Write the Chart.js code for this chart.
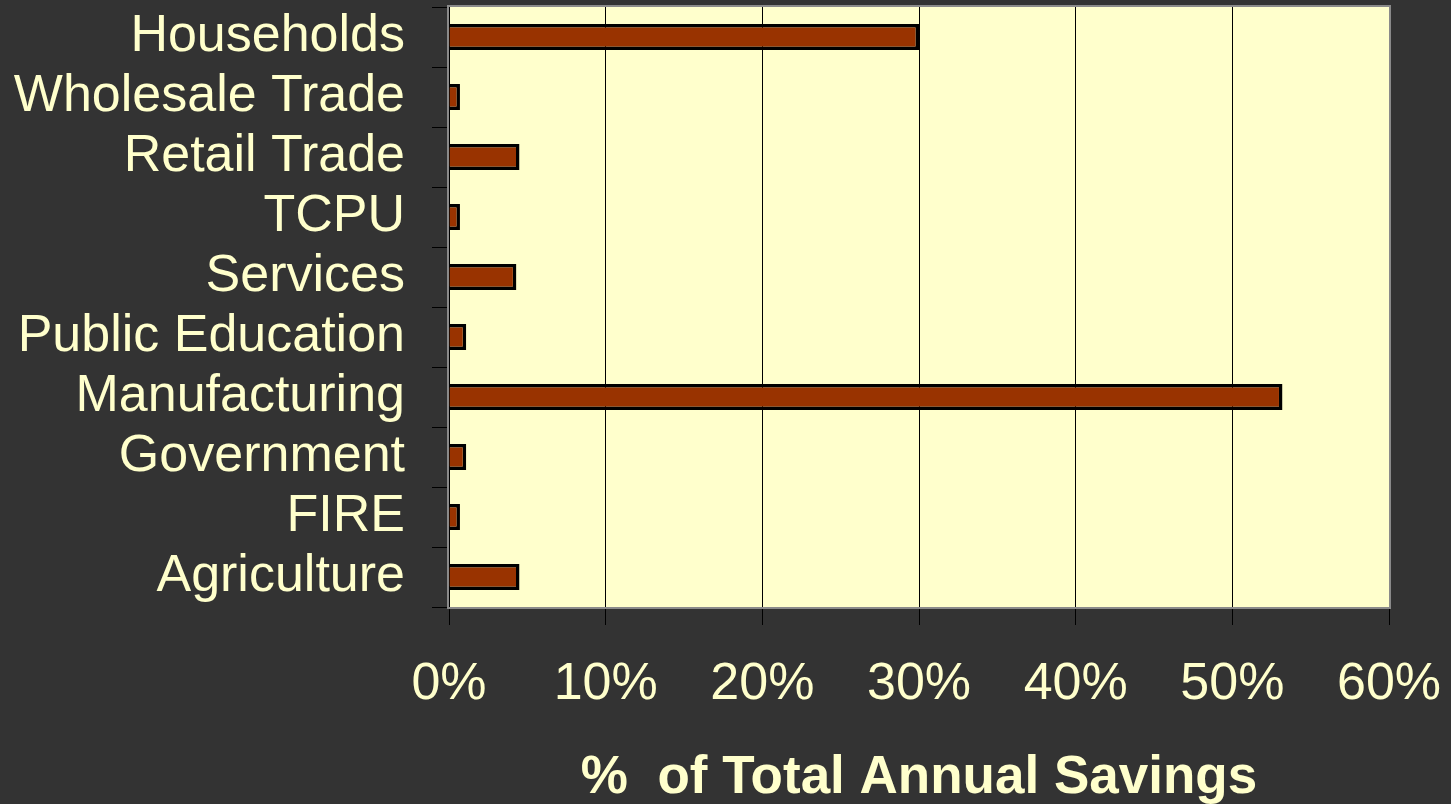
<!DOCTYPE html>
<html>
<head>
<meta charset="utf-8">
<script src="https://cdn.jsdelivr.net/npm/chart.js@4/dist/chart.umd.min.js"></script>
<style>
  html, body { margin: 0; padding: 0; background: #333333; }
  #wrap { width: 1451px; height: 804px; }
</style>
</head>
<body>
<div id="wrap"><canvas id="chart" width="1451" height="804"></canvas></div>
<script>
const sectors = ['Households', 'Wholesale Trade', 'Retail Trade', 'TCPU', 'Services',
    'Public Education', 'Manufacturing', 'Government', 'FIRE', 'Agriculture'];
const savingsShare = [30.0, 0.7, 4.5, 0.7, 4.3, 1.1, 53.2, 1.1, 0.7, 4.5];
const xTicks = [0, 10, 20, 30, 40, 50, 60];

const textColor = '#FFFFCC';
const fontFamily = '"Liberation Sans", Arial, Helvetica, sans-serif';

// plot background + grey frame
const plotFrame = {
    id: 'plotFrame',
    beforeDraw(chart) {
        const { ctx, chartArea: a } = chart;
        ctx.save();
        ctx.fillStyle = '#FFFFCC';
        ctx.fillRect(a.left, a.top, a.right - a.left, a.bottom - a.top);
        ctx.restore();
    },
    afterDatasetsDraw(chart) {
        const { ctx, chartArea: a } = chart;
        ctx.save();
        ctx.strokeStyle = '#8a8a8a';
        ctx.lineWidth = 2;
        ctx.strokeRect(a.left - 1, a.top - 1, a.right - a.left + 2, a.bottom - a.top + 2);
        ctx.restore();
    }
};

function noEdgePadding(scale) {
    scale.paddingTop = 0;
    scale.paddingBottom = 0;
    scale.paddingLeft = 0;
    scale.paddingRight = 0;
}

new Chart(document.getElementById('chart'), {
    type: 'bar',
    data: {
        labels: sectors,
        datasets: [{
            data: savingsShare,
            backgroundColor: '#993300',
            borderColor: '#000000',
            borderWidth: 3.5,
            barPercentage: 0.43,
            categoryPercentage: 1.0
        }]
    },
    options: {
        indexAxis: 'y',
        responsive: false,
        animation: false,
        layout: { padding: { top: 7, right: 62, left: 0, bottom: 0 } },
        plugins: { legend: { display: false }, tooltip: { enabled: false } },
        scales: {
            x: {
                min: 0,
                max: 60,
                afterBuildTicks: (scale) => { scale.ticks = xTicks.map(v => ({ value: v })); },
                afterFit: (scale) => { scale.height = 197; noEdgePadding(scale); },
                border: { display: false },
                grid: { color: '#000000', lineWidth: 1, tickLength: 18, drawOnChartArea: true },
                ticks: {
                    color: textColor,
                    padding: 28,
                    maxRotation: 0,
                    autoSkip: false,
                    font: { family: fontFamily, size: 52 },
                    callback: (v) => v + '%'
                },
                title: {
                    display: true,
                    text: '%  of Total Annual Savings',
                    color: textColor,
                    font: { family: fontFamily, size: 53, weight: 'bold' },
                    padding: { top: 0, bottom: -6 }
                }
            },
            y: {
                afterFit: (scale) => { scale.width = 449; noEdgePadding(scale); },
                border: { display: false },
                grid: { color: '#000000', lineWidth: 1, tickLength: 17, drawOnChartArea: false, offset: true },
                ticks: {
                    color: textColor,
                    padding: 27,
                    autoSkip: false,
                    font: { family: fontFamily, size: 52 }
                }
            }
        }
    },
    plugins: [plotFrame]
});
</script>
</body>
</html>
